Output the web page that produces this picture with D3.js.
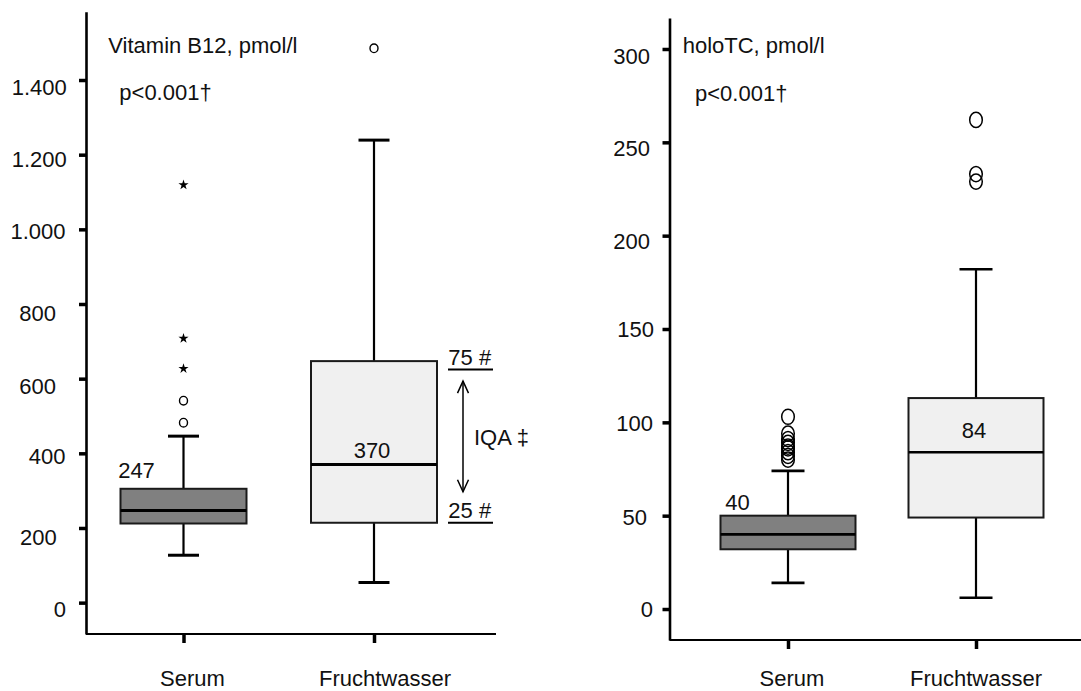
<!DOCTYPE html>
<html>
<head>
<meta charset="utf-8">
<script src="https://cdn.jsdelivr.net/npm/d3@7"></script>
<style>
  html, body { margin: 0; padding: 0; background: #fff; }
  svg text { font-family: "Liberation Sans", Arial, Helvetica, sans-serif; font-size: 22px; fill: #111; }
</style>
</head>
<body>
<svg id="chart" width="1081" height="691"></svg>
<script>
const categories = ["Serum", "Fruchtwasser"];

// Vitamin B12, pmol/l
const b12Lower = [127, 54];
const b12Q1 = [212, 214];
const b12Median = [247, 370];
const b12Q3 = [305, 647];
const b12Upper = [446, 1239];
const b12Outliers = [[482, 541], [1485]];
const b12Extremes = [[627, 708, 1119], []];
const b12Ticks = [0, 200, 400, 600, 800, 1000, 1200, 1400];

// holoTC, pmol/l
const holoLower = [14, 6];
const holoQ1 = [32, 49];
const holoMedian = [40, 84];
const holoQ3 = [50, 113];
const holoUpper = [74, 182];
const holoOutliers = [[103, 94, 91, 89, 87, 86, 84, 82, 80], [262, 233, 229]];
const holoExtremes = [[], []];
const holoTicks = [0, 50, 100, 150, 200, 250, 300];

const boxFills = ["#808080", "#f0f0f0"];
const deFormat = d3.formatLocale({ decimal: ",", thousands: ".", grouping: [3], currency: ["", " €"] }).format(",");

const svg = d3.select("#chart");

function drawPanel(p) {
  const g = svg.append("g");
  const y = d3.scaleLinear().domain(p.yDomain).range([p.axisBottom, p.axisTop]);
  const x = d3.scalePoint().domain(categories).range(p.catRange);

  // boxes and whiskers
  categories.forEach((c, i) => {
    const cx = x(c);
    const b = g.append("g");
    b.append("line").attr("x1", cx).attr("x2", cx)
      .attr("y1", y(p.upper[i])).attr("y2", y(p.q3[i]))
      .attr("stroke", "#000").attr("stroke-width", 2.2);
    b.append("line").attr("x1", cx).attr("x2", cx)
      .attr("y1", y(p.q1[i])).attr("y2", y(p.lower[i]))
      .attr("stroke", "#000").attr("stroke-width", 2.2);
    [p.upper[i], p.lower[i]].forEach(v => {
      b.append("line").attr("x1", cx - p.capWidth / 2).attr("x2", cx + p.capWidth / 2)
        .attr("y1", y(v)).attr("y2", y(v))
        .attr("stroke", "#000").attr("stroke-width", p.capStroke);
    });
    b.append("rect")
      .attr("x", cx - p.boxWidth / 2).attr("width", p.boxWidth)
      .attr("y", y(p.q3[i])).attr("height", y(p.q1[i]) - y(p.q3[i]))
      .attr("fill", boxFills[i]).attr("stroke", "#1a1a1a").attr("stroke-width", 2);
    b.append("line").attr("x1", cx - p.boxWidth / 2).attr("x2", cx + p.boxWidth / 2)
      .attr("y1", y(p.median[i])).attr("y2", y(p.median[i]))
      .attr("stroke", "#000").attr("stroke-width", p.medianStroke);

    // outliers (open circles) and extremes (stars)
    p.outliers[i].forEach(v => {
      b.append("ellipse").attr("cx", cx).attr("cy", y(v))
        .attr("rx", p.outRx).attr("ry", p.outRy)
        .attr("fill", "none").attr("stroke", "#000").attr("stroke-width", p.outStroke);
    });
    p.extremes[i].forEach(v => {
      b.append("path")
        .attr("d", d3.symbol().type(d3.symbolStar).size(32)())
        .attr("transform", `translate(${cx},${y(v)})`)
        .attr("fill", "#000");
    });

    // median value label
    const lab = p.medianLabel[i];
    b.append("text")
      .attr("x", lab.anchor === "left" ? cx - p.boxWidth / 2 + lab.dx : cx + lab.dx)
      .attr("y", y(p.median[i]) + lab.dy)
      .attr("text-anchor", "middle")
      .text(p.median[i]);
  });

  // y axis
  const yAxis = d3.axisLeft(y).tickValues(p.ticks).tickSize(7).tickSizeOuter(0)
    .tickFormat(p.tickFormat);
  const ya = g.append("g").attr("transform", `translate(${p.axisX},0)`).call(yAxis);
  ya.select(".domain").attr("stroke", "#000").attr("stroke-width", 2.6);
  ya.selectAll(".tick line").attr("stroke", "#000").attr("stroke-width", 3.5);
  ya.selectAll(".tick text")
    .attr("fill", "#111")
    .attr("x", d => p.tickNudge[d][0] - p.axisX)
    .attr("dy", d => p.tickNudge[d][1] + 7.5)
    .style("font-size", "22px")
    .style("font-family", '"Liberation Sans", Arial, sans-serif');

  // x axis
  g.append("line").attr("x1", p.axisX).attr("x2", p.axisRight)
    .attr("y1", p.axisBottom).attr("y2", p.axisBottom)
    .attr("stroke", "#000").attr("stroke-width", 2.2);
  const xAxis = d3.axisBottom(x).tickSize(9).tickSizeOuter(0).tickFormat("");
  const xa = g.append("g").attr("transform", `translate(0,${p.axisBottom})`).call(xAxis);
  xa.select(".domain").remove();
  xa.selectAll(".tick line").attr("stroke", "#000").attr("stroke-width", 3.5);
  categories.forEach((c, i) => {
    g.append("text").attr("x", x(c) + p.catLabelDx[i]).attr("y", 686)
      .attr("text-anchor", "middle").text(c);
  });

  // titles
  g.append("text").attr("x", p.title[1]).attr("y", p.title[2]).text(p.title[0]);
  g.append("text").attr("x", p.pText[1]).attr("y", p.pText[2]).text(p.pText[0]);

  return { g, x, y };
}

const left = drawPanel({
  yDomain: [-84, 1583], axisTop: 11.7, axisBottom: 634, axisX: 86, axisRight: 496,
  catRange: [183.5, 374], catLabelDx: [9, 11],
  boxWidth: 126, capWidth: 31, capStroke: 3, medianStroke: 3,
  lower: b12Lower, q1: b12Q1, median: b12Median, q3: b12Q3, upper: b12Upper,
  outliers: b12Outliers, extremes: b12Extremes,
  outRx: 4, outRy: 4.3, outStroke: 1.4,
  ticks: b12Ticks, tickFormat: deFormat,
  tickNudge: { 0: [66, 6.5], 200: [56.7, 9.5], 400: [65.4, 3], 600: [56, 7], 800: [56, 9],
               1000: [65.5, 1.5], 1200: [66.7, 4], 1400: [66.7, 7] },
  medianLabel: [{ anchor: "left", dx: 16, dy: -32 }, { anchor: "center", dx: -2, dy: -6.5 }],
  title: ["Vitamin B12, pmol/l", 108.3, 53],
  pText: ["p<0.001†", 119.3, 99.5]
});

// interquartile range annotation beside the Fruchtwasser box
(function () {
  const { g, y } = left;
  const yQ3 = y(b12Q3[1]), yQ1 = y(b12Q1[1]);
  const ax = 463;
  const a = g.append("g");
  a.append("text").attr("x", 448.3).attr("y", yQ3 + 4).text("75 #");
  a.append("line").attr("x1", 448).attr("x2", 493).attr("y1", yQ3 + 8.5).attr("y2", yQ3 + 8.5)
    .attr("stroke", "#000").attr("stroke-width", 2);
  a.append("text").attr("x", 448.3).attr("y", yQ1 - 4.5).text("25 #");
  a.append("line").attr("x1", 448).attr("x2", 493).attr("y1", yQ1 + 0).attr("y2", yQ1 + 0)
    .attr("stroke", "#000").attr("stroke-width", 2);
  const top = yQ3 + 20, bot = yQ1 - 31;
  a.append("line").attr("x1", ax).attr("x2", ax).attr("y1", top).attr("y2", bot)
    .attr("stroke", "#000").attr("stroke-width", 1.5);
  a.append("path").attr("d", `M${ax - 5.5},${top + 12} L${ax},${top} L${ax + 5.5},${top + 12}`)
    .attr("fill", "none").attr("stroke", "#000").attr("stroke-width", 1.5);
  a.append("path").attr("d", `M${ax - 5.5},${bot - 12} L${ax},${bot} L${ax + 5.5},${bot - 12}`)
    .attr("fill", "none").attr("stroke", "#000").attr("stroke-width", 1.5);
  a.append("text").attr("x", 474).attr("y", (top + bot) / 2 + 8.5).text("IQA ‡");
})();

drawPanel({
  yDomain: [-16.6, 316.6], axisTop: 18, axisBottom: 640, axisX: 669.5, axisRight: 1081,
  catRange: [788, 976], catLabelDx: [4, 0],
  boxWidth: 135, capWidth: 33, capStroke: 2.6, medianStroke: 2.6,
  lower: holoLower, q1: holoQ1, median: holoMedian, q3: holoQ3, upper: holoUpper,
  outliers: holoOutliers, extremes: holoExtremes,
  outRx: 6.3, outRy: 7.6, outStroke: 1.5,
  ticks: holoTicks, tickFormat: d3.format("d"),
  tickNudge: { 0: [653, 0], 50: [647, 1], 100: [653, 1], 150: [654, 0], 200: [650, 5],
               250: [650, 6], 300: [650, 7] },
  medianLabel: [{ anchor: "left", dx: 17, dy: -24 }, { anchor: "center", dx: -2, dy: -14.5 }],
  title: ["holoTC, pmol/l", 682.7, 53],
  pText: ["p<0.001†", 695, 100.5]
});
</script>
</body>
</html>
